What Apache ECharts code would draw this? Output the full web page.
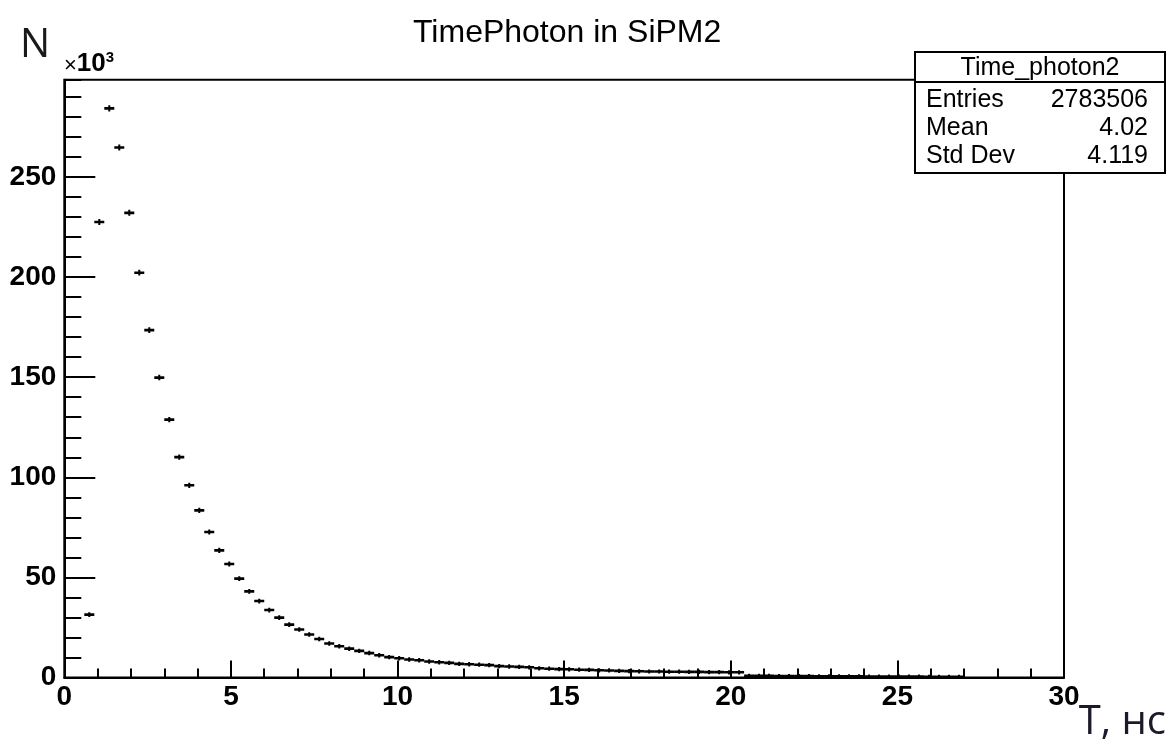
<!DOCTYPE html>
<html>
<head>
<meta charset="utf-8">
<script src="https://cdn.jsdelivr.net/npm/echarts@6/dist/echarts.min.js"></script>
<style>
html,body{margin:0;padding:0;background:#fff;}
#chart{width:1172px;height:743px;}
</style>
</head>
<body>
<div id="chart"></div>
<script>
// Histogram: 100 bins from 0 to 30 ns, contents in units of 10^3
const xMin = 0;
const xMax = 30;
const nBins = 100;
const binValues = [
  0, 0, 31.4, 227.5, 284.3, 264.7, 232.1, 202.2, 173.5, 149.8,
  128.8, 110.1, 96.0, 83.5, 72.7, 63.5, 56.7, 49.4, 43.0, 38.2,
  33.7, 29.9, 26.4, 24.0, 21.5, 19.2, 17.0, 15.6, 14.4, 13.3,
  12.2, 11.1, 10.2, 9.6, 9.0, 8.6, 8.0, 7.6, 7.3, 6.8,
  6.6, 6.4, 6.2, 5.7, 5.5, 5.3, 5.1, 4.6, 4.4, 4.2,
  4.1, 3.9, 3.8, 3.6, 3.5, 3.3, 3.2, 3.1, 3.0, 3.0,
  2.9, 2.9, 2.8, 2.8, 2.7, 2.7, 2.6, 2.6, 0.8, 0.8,
  0.8, 0.7, 0.7, 0.7, 0.7, 0.6, 0.6, 0.6, 0.6, 0.6,
  0.5, 0.5, 0.5, 0.5, 0.5, 0.5, 0.4, 0.4, 0.4, 0.4,
  0, 0, 0, 0, 0, 0, 0, 0, 0, 0
];
const xTickLabels = ['0', '5', '10', '15', '20', '25', '30'];
const yTickLabels = ['0', '50', '100', '150', '200', '250'];
const yMax = 298.6;
const titleText = 'TimePhoton in SiPM2';
const statsName = 'Time_photon2';
const statsRows = [['Entries', '2783506'], ['Mean', '4.02'], ['Std Dev', '4.119']];
const yAxisTitle = 'N';
const xAxisTitle = 'T, нс';

const binWidth = (xMax - xMin) / nBins;
const histData = [];
binValues.forEach((v, i) => {
  if (v > 0) {
    const lo = xMin + i * binWidth;
    const err = Math.sqrt(v * 1000) / 1000;
    histData.push([lo, lo + binWidth, v, err]);
  }
});

const FONT = '"Liberation Sans", Arial, Helvetica, sans-serif';
const chart = echarts.init(document.getElementById('chart'), null, {renderer: 'canvas'});

const frameLeft = 64.3, frameRight = 1064, frameTop = 79.7, frameBottom = 677.5;

const boxL = 915, boxR = 1165, boxT = 52, boxDiv = 82, boxB = 173;

const option = {
  animation: false,
  backgroundColor: '#fff',
  title: {
    text: titleText,
    left: (frameLeft + frameRight) / 2 - 2,
    top: 12,
    textAlign: 'center',
    textStyle: {fontFamily: FONT, fontWeight: 'normal', fontSize: 32, color: '#000'}
  },
  grid: {
    left: frameLeft, right: 1172 - frameRight, top: frameTop, bottom: 743 - frameBottom,
    show: true, borderColor: '#000', borderWidth: 2, backgroundColor: '#fff'
  },
  xAxis: {
    type: 'value', min: xMin, max: xMax, interval: 5,
    axisLine: {show: true, lineStyle: {color: '#000', width: 2}},
    axisTick: {show: true, inside: true, length: 17, lineStyle: {color: '#000', width: 2}},
    minorTick: {show: true, splitNumber: 5, length: 9, lineStyle: {color: '#000', width: 2}},
    splitLine: {show: false},
    axisLabel: {
      margin: 6, fontFamily: FONT, fontWeight: 'bold', fontSize: 28, color: '#000',
      formatter: (v) => xTickLabels[Math.round(v / 5)] || ''
    }
  },
  yAxis: [
    {
      type: 'value', position: 'left', min: 0, max: yMax, interval: 50,
      axisLine: {show: true, lineStyle: {color: '#000', width: 2}},
      axisTick: {show: true, inside: true, length: 31, lineStyle: {color: '#000', width: 2}},
      minorTick: {show: false},
      splitLine: {show: false},
      axisLabel: {
        margin: 8, fontFamily: FONT, fontWeight: 'bold', fontSize: 28, color: '#000',
        showMaxLabel: false,
        formatter: (v) => {
          const k = Math.round(v / 50);
          return (Math.abs(v - k * 50) < 1e-6 && yTickLabels[k] !== undefined) ? yTickLabels[k] : '';
        }
      }
    },
    {
      type: 'value', position: 'left', min: 0, max: yMax, interval: 10,
      axisLine: {show: false},
      axisTick: {show: true, inside: true, length: 17, lineStyle: {color: '#000', width: 2}},
      axisLabel: {show: false},
      splitLine: {show: false}
    }
  ],
  series: [{
    type: 'custom',
    xAxisIndex: 0, yAxisIndex: 0,
    clip: true,
    data: histData,
    encode: {x: [0, 1], y: [2]},
    renderItem: function (params, api) {
      const lo = api.value(0), hi = api.value(1), v = api.value(2), e = api.value(3);
      const a = api.coord([lo, v]);
      const b = api.coord([hi, v]);
      const c = (lo + hi) / 2;
      const t = api.coord([c, v + e]);
      const d = api.coord([c, v - e]);
      return {
        type: 'group',
        children: [
          {type: 'line', shape: {x1: a[0], y1: a[1], x2: b[0], y2: b[1]}, style: {stroke: '#000', lineWidth: 2.6}},
          {type: 'line', shape: {x1: t[0], y1: t[1] - 2, x2: d[0], y2: d[1] + 2}, style: {stroke: '#000', lineWidth: 2}}
        ]
      };
    }
  }],
  graphic: [
    {
      type: 'text', left: 20, top: 26, z: 10,
      style: {text: yAxisTitle, fontFamily: '"Open Sans", "Noto Sans", sans-serif', fontSize: 40, fill: '#1a1a1a'}
    },
    {
      type: 'text', left: 64, top: 50, z: 10,
      style: {
        text: '{a|×}{b|10}{c|3}',
        rich: {
          a: {fontFamily: FONT, fontSize: 22, fill: '#000', verticalAlign: 'bottom'},
          b: {fontFamily: FONT, fontSize: 26, fontWeight: 'bold', fill: '#000', verticalAlign: 'bottom'},
          c: {fontFamily: FONT, fontSize: 15, fontWeight: 'bold', fill: '#000', verticalAlign: 'top', padding: [0, 0, 12, 0]}
        }
      }
    },
    {
      type: 'text', right: 6, top: 703, z: 10,
      style: {text: xAxisTitle, fontFamily: '"Open Sans", "Noto Sans", sans-serif', fontSize: 40, fill: '#1a1a2a'}
    },
    {
      type: 'group', z: 20,
      children: [
        {type: 'rect', shape: {x: boxL, y: boxT, width: boxR - boxL, height: boxB - boxT},
          style: {fill: '#fff', stroke: '#000', lineWidth: 2}},
        {type: 'line', shape: {x1: boxL, y1: boxDiv, x2: boxR, y2: boxDiv}, style: {stroke: '#000', lineWidth: 2}},
        {type: 'text', x: (boxL + boxR) / 2, y: (boxT + boxDiv) / 2 + 1,
          style: {text: statsName, fontFamily: FONT, fontSize: 25, fill: '#000', align: 'center', verticalAlign: 'middle'}},
        ...statsRows.flatMap((r, i) => {
          const yy = 100 + i * 28.3;
          return [
            {type: 'text', x: boxL + 11, y: yy,
              style: {text: r[0], fontFamily: FONT, fontSize: 25, fill: '#000', align: 'left', verticalAlign: 'middle'}},
            {type: 'text', x: boxR - 17, y: yy,
              style: {text: r[1], fontFamily: FONT, fontSize: 25, fill: '#000', align: 'right', verticalAlign: 'middle'}}
          ];
        })
      ]
    }
  ]
};
chart.setOption(option);
</script>
</body>
</html>
